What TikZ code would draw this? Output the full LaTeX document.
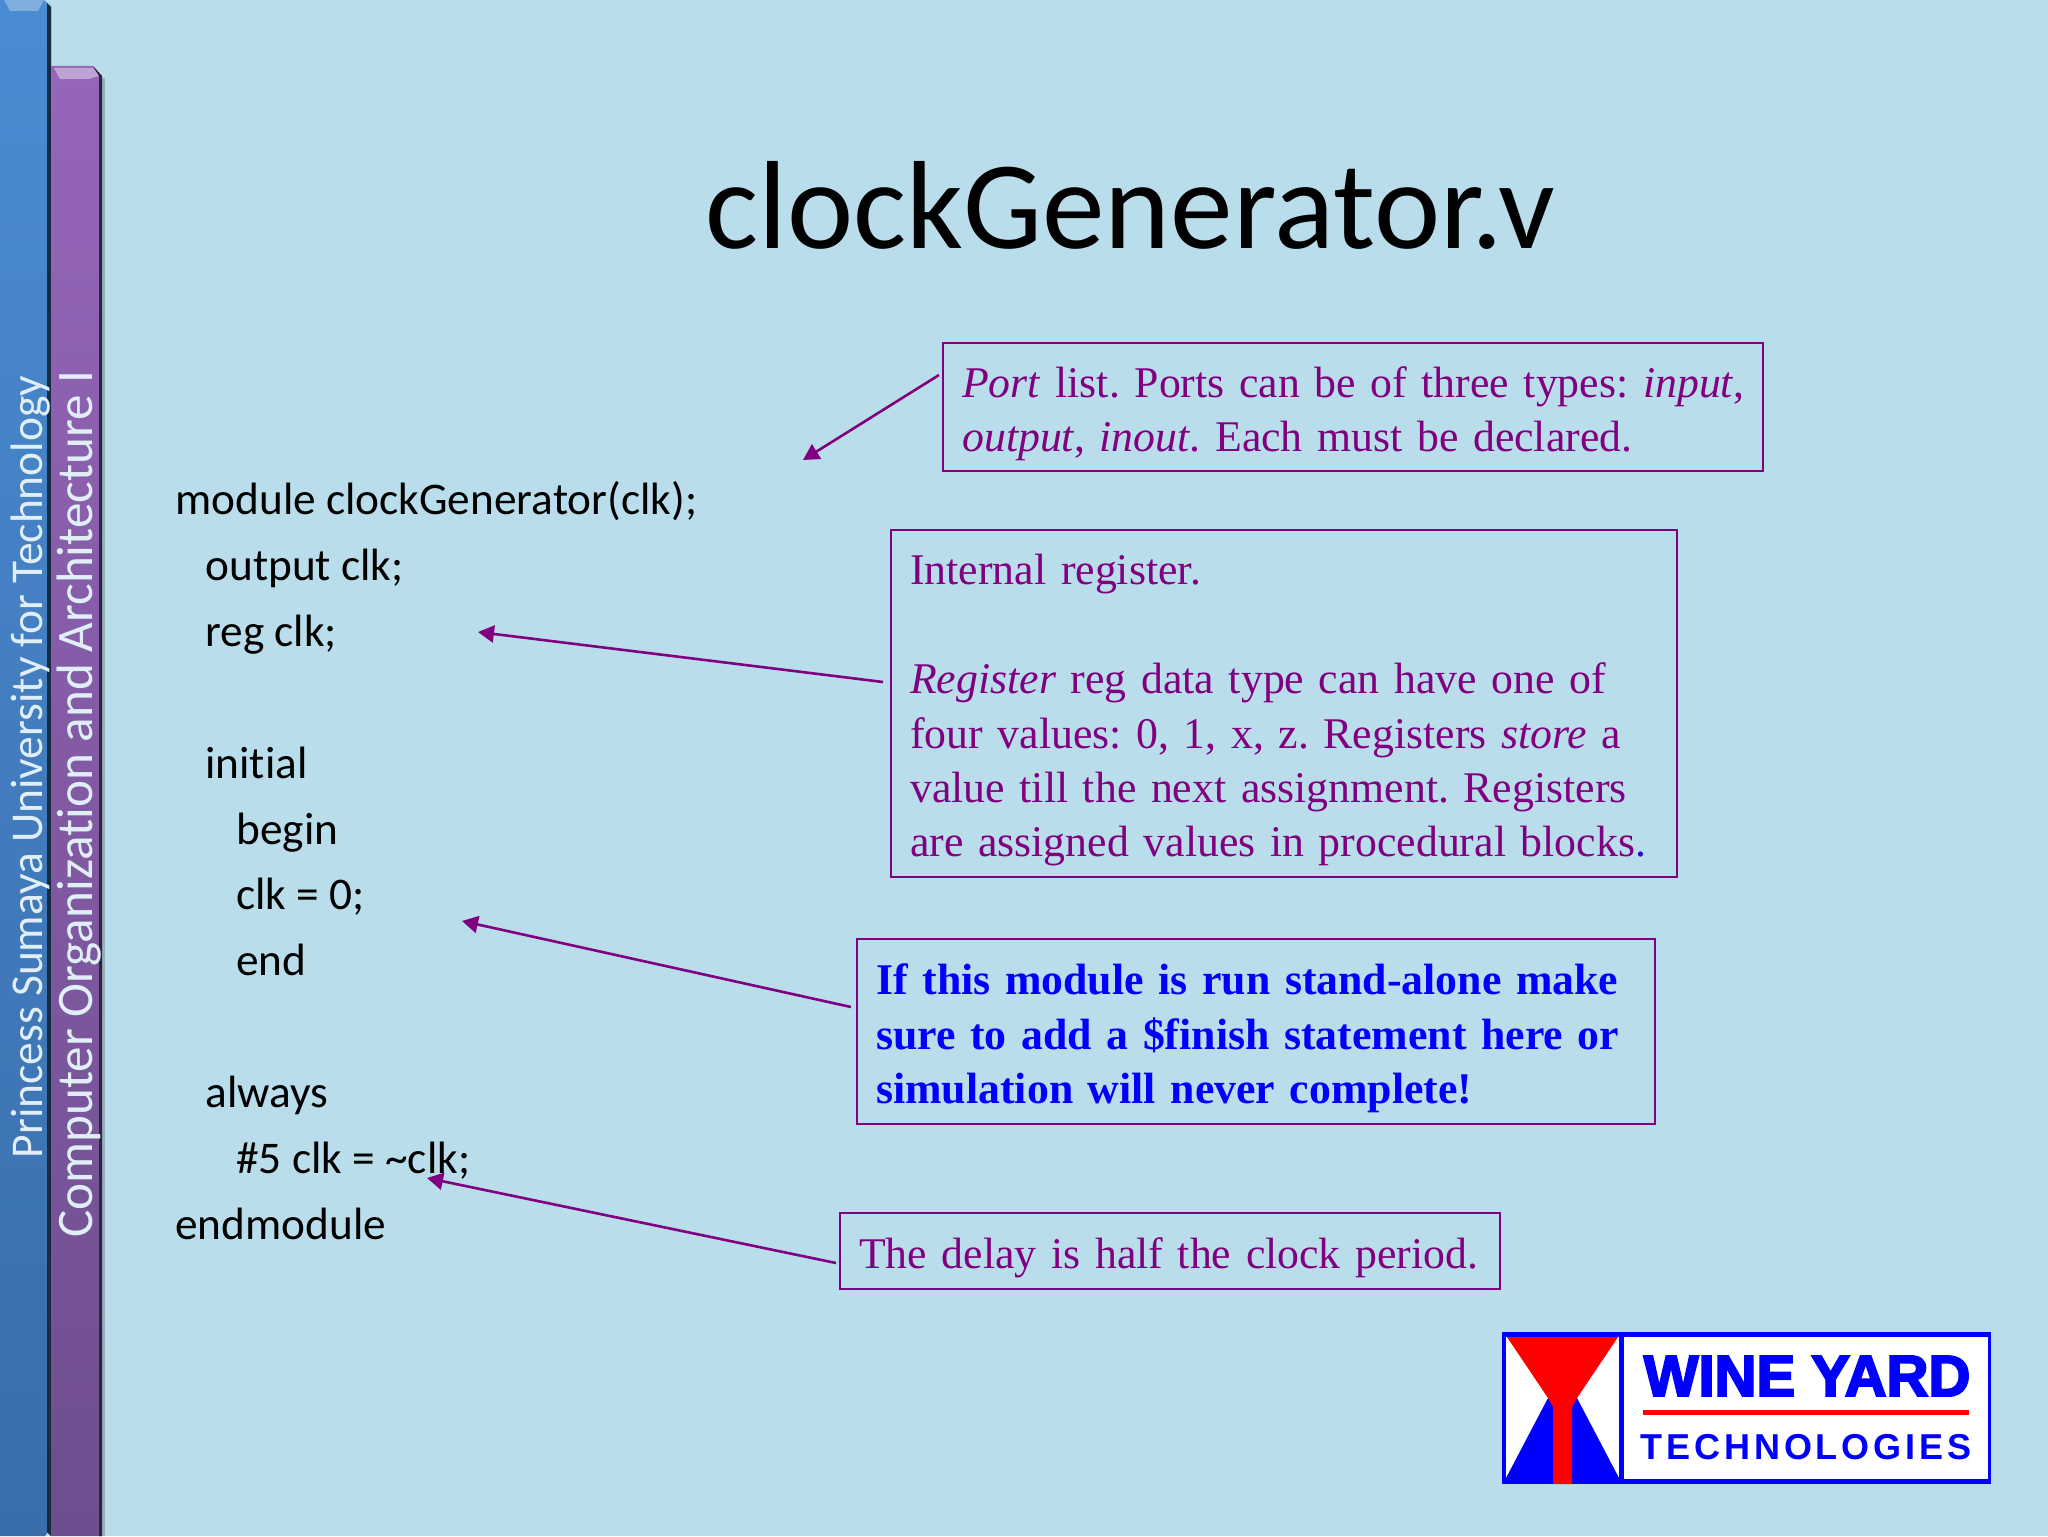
\documentclass[tikz,border=0pt]{standalone}
\usepackage{fontspec}
\setmainfont{Liberation Serif}
\newfontfamily\calibri[Ligatures=CommonOff]{Carlito}
\newfontfamily\logofont[FakeBold=3.5]{Liberation Sans Bold}
\newfontfamily\logosub[LetterSpace=11]{Liberation Sans Bold}
\usetikzlibrary{arrows.meta,calc}
\definecolor{bgc}{HTML}{B9DDEA}
\definecolor{plum}{HTML}{800080}
\definecolor{bluetop}{HTML}{4A8CD2}
\definecolor{bluebot}{HTML}{3A6DAB}
\definecolor{purptop}{HTML}{9566B9}
\definecolor{purpbot}{HTML}{6E4E8E}
\definecolor{sidec}{HTML}{E0EEF8}
\newcommand\noteline[1]{\mbox{#1}}
\newcommand\firstline[1]{\mbox{\rule{0pt}{22pt}#1}}
\newcommand\notefont{\frenchspacing\fontsize{21.9}{27.2}\selectfont}
\tikzset{
  notebox/.style={draw=plum,line width=1.2pt,anchor=north west,inner xsep=9.5pt,inner ysep=0pt,text=plum,align=left,
    font=\notefont},
  pointer/.style={draw=plum,line width=1.3pt,-{Triangle[length=8pt,width=8.5pt]}},
  sidetext/.style={rotate=90,anchor=base,text=sidec,inner sep=0pt},
}
\begin{document}
\begin{tikzpicture}[x=0.5pt,y=-0.5pt]
\useasboundingbox (0,0) rectangle (2048,1536);
\fill[bgc] (0,0) rectangle (2048,1536);
% side bars
\fill[black!40!bgc,opacity=.5] (101,78) rectangle (105,1536);
\shade[top color=bluetop,bottom color=bluebot] (0,0) -- (44,0) -- (51,7) -- (51,1528) -- (45,1536) -- (0,1536) -- cycle;
\fill[bluetop!70!white] (4,0) -- (44,0) -- (38,11) -- (10,11) -- cycle;
\fill[black!60!bluebot] (47,3) -- (51,7) -- (51,1536) -- (47,1532) -- cycle;
\shade[top color=purptop,bottom color=purpbot] (51,66) -- (93,66) -- (102,76) -- (102,1536) -- (51,1536) -- cycle;
\fill[purptop!60!white] (54,68) -- (93,68) -- (99,76) -- (89,79) -- (60,79) -- cycle;
\fill[black!55!purpbot] (93,66) -- (102,76) -- (102,1536) -- (99,1536) -- (99,76) -- cycle;
\node[sidetext,font=\calibri\fontsize{22.75}{26}\selectfont] (uni) at (42,767) {Princess Sumaya University for Technology};
\node[sidetext,font=\calibri\fontsize{25.6}{30}\selectfont] (course) at (92,804) {Computer Organization and Architecture I};
% title
\node[font=\calibri\fontsize{62.7}{70}\selectfont,text=black,inner sep=0pt] (title) at (1130,205) {clockGenerator.v};
% code
\node[anchor=north west,inner sep=0pt,align=left,text=black,font=\calibri\fontsize{22.65}{32.95}\selectfont] (code) at (175,481)
{module clockGenerator(clk);\\
\hspace*{15pt}output clk;\\
\hspace*{15pt}reg clk;\\
\mbox{}\\
\hspace*{15pt}initial\\
\hspace*{30.5pt}begin\\
\hspace*{30.5pt}clk = 0;\\
\hspace*{30.5pt}end\\
\mbox{}\\
\hspace*{15pt}always\\
\hspace*{30.5pt}\#5 clk = \textasciitilde clk;\\
endmodule};
% notes
\node[notebox,minimum width=410pt,minimum height=64pt,text width=391pt] (port) at (942,342)
{\firstline{\textit{Port} list. Ports can be of three types: \textit{input},}\\
\noteline{\textit{output}, \textit{inout}. Each must be declared.}};
\node[notebox,minimum width=393pt,minimum height=173.5pt,text width=374pt] (reg) at (890,529)
{\firstline{Internal register.}\\
\mbox{}\\
\noteline{\textit{Register} reg data type can have one of}\\
\noteline{four values: 0, 1, x, z. Registers \textit{store} a}\\
\noteline{value till the next assignment. Registers}\\
\noteline{are assigned values in procedural blocks\textcolor{blue!60!plum}{.}}};
\node[notebox,text=blue,minimum width=399pt,minimum height=92.5pt,text width=380pt] (warn) at (856,938)
{\firstline{\bfseries If this module is run stand-alone make}\\
\noteline{\bfseries sure to add a \$finish statement here or}\\
\noteline{\bfseries simulation will never complete!}};
\node[notebox,minimum width=330pt,minimum height=38pt,text width=311pt] (delay) at (839,1212)
{\firstline{The delay is half the clock period.}};
% connectors
\coordinate (t1) at (803,460);
\coordinate (t2) at (478,632);
\coordinate (t3) at (462,921);
\coordinate (t4) at (427,1178);
\coordinate (s1) at (939,375);
\coordinate (s2) at (883,682);
\coordinate (s3) at (851,1007);
\coordinate (s4) at (836,1263);
\draw[pointer] (s1) -- (t1);
\draw[pointer] (s2) -- (t2);
\draw[pointer] (s3) -- (t3);
\draw[pointer] (s4) -- (t4);
% logo
\fill[blue] (1502,1332) rectangle (1991,1484);
\fill[white] (1506,1337) rectangle (1619,1480);
\fill[white] (1624,1337) rectangle (1988,1479);
\fill[blue] (1548,1398) -- (1577,1398) -- (1619,1478) -- (1619,1482) -- (1506,1482) -- (1506,1478) -- cycle;
\fill[red] (1507,1337) -- (1618,1337) -- (1577,1398) -- (1572,1407) -- (1572,1484) -- (1553,1484) -- (1553,1407) -- (1548,1398) -- cycle;
\fill[red] (1643,1410) rectangle (1969,1415);
\node[text=blue,inner sep=0pt,font=\logofont\fontsize{29}{30}\selectfont] (wy) at (1807,1376) {WINE YARD};
\node[text=blue,inner sep=0pt,font=\logosub\fontsize{18}{20}\selectfont] (tech) at (1806,1447) {TECHNOLOGIES};
\end{tikzpicture}
\end{document}
